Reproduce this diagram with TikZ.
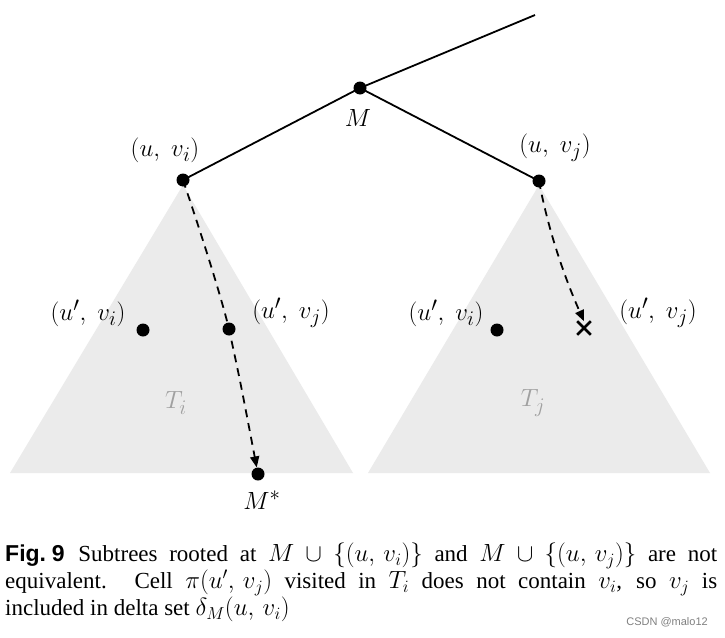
\documentclass[tikz,border=0pt]{standalone}
\usepackage{fontspec}
\setmainfont{Liberation Serif}
\newfontfamily\capsans{Liberation Sans}
\usetikzlibrary{arrows.meta,shapes.misc}
\definecolor{trigray}{HTML}{EBEBEB}
\definecolor{lblgray}{HTML}{A0A0A0}
\tikzset{
  dot/.style={circle,fill=black,inner sep=0pt,minimum size=13pt},
  lbl/.style={font=\fontsize{31}{34}\selectfont,inner sep=0pt},
  edge/.style={line width=1.8pt},
  dashedge/.style={line width=1.8pt,dash pattern=on 8pt off 6pt,-{Triangle[length=11pt,width=9pt]}},
  xmark/.style={cross out,draw=black,line width=2.6pt,minimum size=11pt,inner sep=0pt},
  tlbl/.style={font=\fontsize{31}{34}\selectfont,text=lblgray,inner sep=0pt}
}
\begin{document}
\begin{tikzpicture}[x=1pt,y=-1pt]
\useasboundingbox[fill=white] (0,0) rectangle (725,637);
% triangles
\fill[trigray] (183,185) -- (10,473) -- (353,473) -- cycle;
\fill[trigray] (539,185) -- (368,473) -- (710,473) -- cycle;
% nodes
\coordinate (top) at (535,15);
\node[dot] (M) at (360,88) {};
\node[dot] (uvi) at (183,180) {};
\node[dot] (uvj) at (539,181) {};
\node[dot] (Lvi) at (143,330) {};
\node[dot] (Lvj) at (229,329) {};
\node[dot] (Ms) at (258,474) {};
\node[dot] (Rvi) at (497,330) {};
\node[xmark] (Rx) at (584,328) {};
% labels
\node[lbl] (lM) at (358,118) {$M$};
\node[lbl] (luvi) at (165,150) {$(u,\;v_i)$};
\node[lbl] (luvj) at (555,148) {$(u,\;v_j)$};
\node[lbl] (lLvi) at (88,313) {$(u',\;v_i)$};
\node[lbl] (lLvj) at (291,313) {$(u',\;v_j)$};
\node[lbl] (lMs) at (262,500) {$M^*$};
\node[lbl] (lRvi) at (446,313) {$(u',\;v_i)$};
\node[lbl] (lRvj) at (658,313) {$(u',\;v_j)$};
\node[tlbl] (Ti) at (176,403) {$T_i$};
\node[tlbl] (Tj) at (533,403) {$T_j$};
% edges
\draw[edge] (top) -- (M.center);
\draw[edge] (M.center) -- (uvi.center);
\draw[edge] (M.center) -- (uvj.center);
\draw[dashedge] (uvi.center) .. controls (205,245) and (222,300) .. (Lvj.center)
   .. controls (240,380) .. (Ms);
\draw[dashedge] (uvj.center) .. controls (550,240) and (570,290) .. (Rx.north);
% caption
\node[anchor=north west,inner sep=0pt,text width=712pt,align=justify,
  font=\fontsize{23}{25}\selectfont] (cap) at (5,543)
  {{\capsans\bfseries Fig.\hspace{0.25em}9}\hspace{0.6em}Subtrees rooted at $M\cup\{(u,\,v_i)\}$ and $M\cup\{(u,\,v_j)\}$ are not\linebreak
  equivalent. Cell $\pi(u',\,v_j)$ visited in $T_i$ does not contain $v_i$, so $v_j$ is\linebreak
  included in delta set $\delta_M(u,\,v_i)$};
\node[anchor=east,inner sep=0pt,font=\capsans\fontsize{11}{13}\selectfont,text=gray] (wm) at (708,622) {CSDN @malo12};
\end{tikzpicture}
\end{document}
